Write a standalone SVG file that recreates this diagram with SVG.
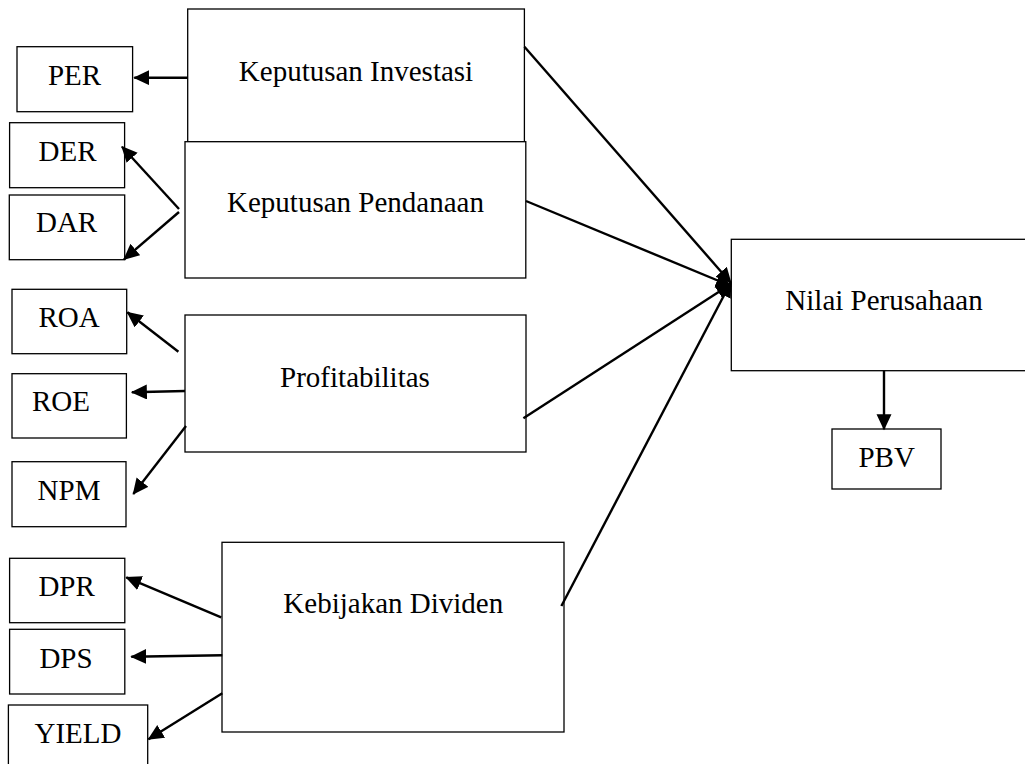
<svg xmlns="http://www.w3.org/2000/svg" width="1025" height="764" viewBox="0 0 1025 764">
<style>
.box{fill:#fff;stroke:#000;stroke-width:1.3}
.t{font-family:"Liberation Serif","Times New Roman",serif;font-size:29px;fill:#000;text-anchor:middle}
.c{stroke:#000;stroke-width:2.4;fill:none;marker-end:url(#ah)}
</style>
<defs>
<marker id="ah" markerUnits="userSpaceOnUse" markerWidth="17" markerHeight="16" refX="15" refY="7.5" orient="auto" viewBox="0 0 17 16">
<path d="M0,0 L16,7.5 L0,15 z" fill="#000"/>
</marker>
</defs>
<rect width="1025" height="764" fill="#fff"/>
<g id="keputusan-investasi"><rect class="box" x="187.7" y="9" width="336.7" height="133"/><text class="t" x="356" y="81">Keputusan Investasi</text></g>
<g id="keputusan-pendanaan"><rect class="box" x="185" y="141.7" width="340.8" height="136.3"/><text class="t" x="355.5" y="212">Keputusan Pendanaan</text></g>
<g id="profitabilitas"><rect class="box" x="185" y="315" width="341" height="137"/><text class="t" x="355" y="386.7">Profitabilitas</text></g>
<g id="kebijakan-dividen"><rect class="box" x="222" y="542.3" width="342" height="189.7"/><text class="t" x="393.3" y="613.3">Kebijakan Dividen</text></g>
<g id="nilai-perusahaan"><rect class="box" x="731.3" y="239.3" width="300" height="131.4"/><text class="t" x="884" y="310">Nilai Perusahaan</text></g>
<g id="pbv"><rect class="box" x="832" y="429" width="109" height="60"/><text class="t" x="886.7" y="466.7">PBV</text></g>
<g id="per"><rect class="box" x="17" y="46.7" width="115.6" height="65"/><text class="t" x="74.5" y="85">PER</text></g>
<g id="der"><rect class="box" x="9.6" y="122.7" width="115" height="65"/><text class="t" x="67.5" y="161">DER</text></g>
<g id="dar"><rect class="box" x="9.3" y="195" width="115.4" height="64.7"/><text class="t" x="66.6" y="232">DAR</text></g>
<g id="roa"><rect class="box" x="12" y="289.3" width="114.7" height="64.4"/><text class="t" x="69" y="326.7">ROA</text></g>
<g id="roe"><rect class="box" x="12" y="373.7" width="114.4" height="64.3"/><text class="t" x="61" y="410.7">ROE</text></g>
<g id="npm"><rect class="box" x="12" y="461.7" width="114" height="65"/><text class="t" x="69" y="500">NPM</text></g>
<g id="dpr"><rect class="box" x="9.6" y="558.3" width="115.2" height="64.4"/><text class="t" x="66.6" y="596">DPR</text></g>
<g id="dps"><rect class="box" x="9.6" y="629.3" width="115.2" height="64.7"/><text class="t" x="66" y="667.7">DPS</text></g>
<g id="yield"><rect class="box" x="8.4" y="705" width="139.3" height="70"/><text class="t" x="78" y="742.7">YIELD</text></g>
<g id="connectors">
<line class="c" x1="187.7" y1="77.7" x2="134.3" y2="77.7"/>
<line class="c" x1="179" y1="209" x2="122" y2="146.7"/>
<line class="c" x1="179" y1="212" x2="124" y2="259.3"/>
<line class="c" x1="178.4" y1="351.7" x2="127.4" y2="312.3"/>
<line class="c" x1="185" y1="391" x2="131.9" y2="392.3"/>
<line class="c" x1="186" y1="426" x2="133.3" y2="494"/>
<line class="c" x1="221.2" y1="617.3" x2="126.3" y2="577.3"/>
<line class="c" x1="222.3" y1="655.3" x2="131.3" y2="656.7"/>
<line class="c" x1="222.3" y1="693.3" x2="148.5" y2="739.3"/>
<line class="c" x1="524.4" y1="46.7" x2="731" y2="283"/>
<line class="c" x1="526" y1="201" x2="731" y2="286"/>
<line class="c" x1="523.4" y1="418.3" x2="731" y2="284"/>
<line class="c" x1="561.4" y1="606" x2="731" y2="282"/>
<line class="c" x1="884" y1="370.7" x2="884" y2="429.3"/>
</g>
</svg>
